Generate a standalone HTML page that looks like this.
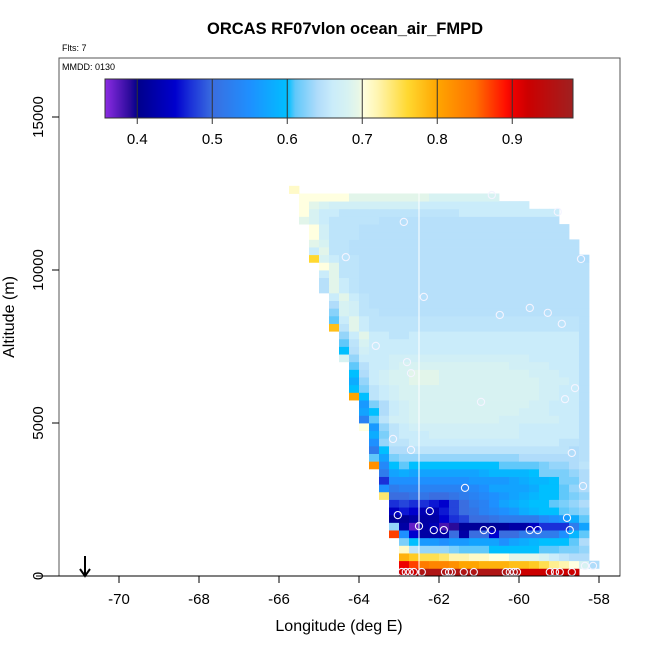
<!DOCTYPE html>
<html><head><meta charset="utf-8"><style>
html,body{margin:0;padding:0;background:#fff;}
svg{display:block;font-family:"Liberation Sans",Arial,sans-serif;}
</style></head><body>
<svg id="chart" width="650" height="650" viewBox="0 0 650 650" xmlns="http://www.w3.org/2000/svg">
<rect width="650" height="650" fill="#fff"/>
<text x="345" y="34" font-size="16.5" font-weight="bold" text-anchor="middle">ORCAS RF07vlon ocean_air_FMPD</text>
<text x="62" y="51" font-size="9">Flts: 7</text>
<g id="cells"></g>
<g id="vline"></g>
<g id="points"></g>
<rect x="59" y="58" width="561" height="518" fill="none" stroke="#555" stroke-width="1"/>
<text x="62" y="70" font-size="9">MMDD: 0130</text>
<g id="cbar"></g>
<g id="xaxis"></g>
<g id="yaxis"></g>
<text x="339" y="631" font-size="16" text-anchor="middle">Longitude (deg E)</text>
<text transform="translate(14,317) rotate(-90)" font-size="16" text-anchor="middle">Altitude (m)</text>
<g>
<line x1="85" y1="556" x2="85" y2="575" stroke="#000" stroke-width="2"/>
<polyline points="80,569 85,576 90,569" fill="none" stroke="#000" stroke-width="2"/>
</g>
</svg>
<script>
const xTicks=[-70,-68,-66,-64,-62,-60,-58];
const yTicks=[0,5000,10000,15000];
const cbTicks=[0.4,0.5,0.6,0.7,0.8,0.9];
const lonStart=-65.75, lonStep=0.25, altStep=250;
const markerLon=-62.5;
// heatmap rows (altitude bin index = array index): first entry = starting column, then values (hundredths)
const gridRows=[
[11,92,92,96,96,96,96,96,96,96,96,96,96,92,92,92,92,92,92],
[11,90,87,84,83,83,82,80,80,79,79,79,78,78,77,75,73,72,70,68,64],
[11,79,77,75,75,74,72,72,71,71,70,70,69,69,69,68,66,65,64,64],
[11,71,65,63,63,63,62,61,61,61,60,60,60,60,60,61,61,62,62,63],
[11,62,60,56,56,55,56,56,57,57,57,55,57,58,59,60,60,60,61,64],
[10,87,55,45,42,42,42,50,42,50,50,45,50,50,52,52,52,52,55,59,61],
[10,63,42,37,42,43,38,39,41,41,41,41,41,42,42,44,47,47,47,52,57],
[10,41,41,42,42,42,45,47,48,50,50,51,52,52,52,52,54,55,56,58,61],
[10,44,46,45,43,43,46,48,50,51,53,54,55,56,58,59,60,60,61,62,63],
[10,47,48,47,47,46,45,48,50,52,53,55,57,58,59,60,60,61,62,63,64],
[9,74,50,50,51,51,50,50,51,52,53,54,55,56,57,58,59,60,60,61,62,63],
[9,55,52,53,53,53,53,53,53,53,54,55,57,57,57,57,58,60,60,61,63,64],
[9,47,55,55,55,55,55,55,55,55,56,56,56,56,57,58,59,59,60,62,62,64],
[9,52,57,58,57,57,57,57,57,57,57,58,59,59,59,59,60,62,62,62,63,64],
[8,82,54,60,61,60,60,60,60,60,60,60,60,60,61,61,61,61,62,63,63,64,65],
[8,61,57,62,63,63,63,63,63,63,63,63,63,63,63,63,64,64,64,64,64,64,64.5],
[8,52,60,64,64,65,65,65,65,65,65,65,65,65,65,65,65,65,65,65,65,64,64.5],
[8,55,63,65,65,66,66,66,66,66,66,66,66,66,66,66,66,66,66,66,65,65,64.5],
[8,58,62,65,66,66,66,67,67,67,67,67,67,67,67,67,66,66,66,66,66,66,64.5],
[7,70,56,63,65,66,67,67,67,67,67,67,67,67,67,67,67,66,66,66,66,66,66,64.5],
[7,53,61,65,67,67,68,68,68,68,68,68,68,68,68,67,67,67,67,67,67,66,66,64.5],
[7,57,60,64,66,67,68,68,68,68,68,68,68,68,68,68,68,67,67,67,66,66,66,64.5],
[7,56,62,64,66,67,68,68,68,68,68,68,68,68,68,68,68,68,67,67,66,66,66,64.5],
[6,80,60,65,66,67,68,68,68,68,68,68,68,68,68,68,68,68,68,68,67,67,66,66,64.5],
[6,60,62,65,66,67,68,68,68,68,68,68,68,68,68,68,68,68,68,68,67,67,66,66,64.5],
[6,58,63,66,67,68,68,69,69,69,68,68,68,68,68,68,68,68,68,68,67,67,67,66,64.5],
[6,60,64,66,67,68,68,69,69,69,68,68,68,68,68,68,68,68,68,67,67,67,66,66,64.5],
[6,61,64.5,66,66,67,68,68,68,68,68,68,68,68,68,68,68,67,67,67,67,66,66,66,64.5],
[5,68,63,66,66,66,67,67,67,67,67,67,67,67,67,67,67,67,67,67,66,66,66,66,66,64.5],
[5,60,64.5,67,66,66,66,66,66,66,66,66,66,66,66,66,66,66,66,66,66,66,66,66,66,64.5],
[5,61,65,68,66,66,66,66,66,66,66,66,66,66,66,66,66,66,66,66,66,66,66,66,66,64.5],
[5,63,66,69,66,66,65,65,66,66,66,66,66,66,66,66,66,66,66,66,66,66,66,66,66,64.5],
[4,78,65,69,66,65,65,65,65,65,65,65,65,65,65,65,65,65,65,65,65,65,65,65,65,65,64.5],
[4,61,66,69,66,65,65,65,65,65,65,65,65,65,65,65,65,65,65,65,65,65,65,65,65,65,64.5],
[4,62.5,68,67,65,65,64.5,64.5,64.5,64.5,64.5,64.5,64.5,64.5,64.5,64.5,64.5,64.5,64.5,64.5,64.5,64.5,64.5,64.5,64.5,64.5,64.5],
[4,64,68,67,65,64.5,64.5,64.5,64.5,64.5,64.5,64.5,64.5,64.5,64.5,64.5,64.5,64.5,64.5,64.5,64.5,64.5,64.5,64.5,64.5,64.5,64.5],
[4,66,69,66,65,64.5,64.5,64.5,64.5,64.5,64.5,64.5,64.5,64.5,64.5,64.5,64.5,64.5,64.5,64.5,64.5,64.5,64.5,64.5,64.5,64.5,64.5],
[3,64.5,69,66,65,64.5,64.5,64.5,64.5,64.5,64.5,64.5,64.5,64.5,64.5,64.5,64.5,64.5,64.5,64.5,64.5,64.5,64.5,64.5,64.5,64.5,64.5,64.5],
[3,64.5,69,66,65,64.5,64.5,64.5,64.5,64.5,64.5,64.5,64.5,64.5,64.5,64.5,64.5,64.5,64.5,64.5,64.5,64.5,64.5,64.5,64.5,64.5,64.5,64.5],
[3,66,69,65,65,64.5,64.5,64.5,64.5,64.5,64.5,64.5,64.5,64.5,64.5,64.5,64.5,64.5,64.5,64.5,64.5,64.5,64.5,64.5,64.5,64.5,64.5,64.5],
[3,70,69,65,65,64.5,64.5,64.5,64.5,64.5,64.5,64.5,64.5,64.5,64.5,64.5,64.5,64.5,64.5,64.5,64.5,64.5,64.5,64.5,64.5,64.5,64.5,64.5],
[2,76,68,66,65,65,64.5,64.5,64.5,64.5,64.5,64.5,64.5,64.5,64.5,64.5,64.5,64.5,64.5,64.5,64.5,64.5,64.5,64.5,64.5,64.5,64.5,64.5,64],
[2,66,69,65,65,64.5,64.5,64.5,64.5,64.5,64.5,64.5,64.5,64.5,64.5,64.5,64.5,64.5,64.5,64.5,64.5,64.5,64.5,64.5,64.5,64.5,64.5,64.5],
[2,69,68,65,65,64.5,64.5,64.5,64.5,64.5,64.5,64.5,64.5,64.5,64.5,64.5,64.5,64.5,64.5,64.5,64.5,64.5,64.5,64.5,64.5,64.5,64.5,64.5],
[2,70,67,65,65,65,64.5,64.5,64.5,64.5,64.5,64.5,64.5,64.5,64.5,64.5,64.5,64.5,64.5,64.5,64.5,64.5,64.5,64.5,64.5,64.5,64.5],
[2,70,67,65,65,65,64.5,64.5,64.5,64.5,64.5,64.5,64.5,64.5,64.5,64.5,64.5,64.5,64.5,64.5,64.5,64.5,64.5,64.5,64.5,64.5,64.5],
[1,69,68,66,65,65,65,65,65,64.5,64.5,64.5,64.5,64.5,64.5,64.5,64.5,64.5,64.5,64.5,64.5,64.5,64.5,64.5,64.5,64.5,64.5],
[1,70,68,66,66,65,65,65,65,65,65,65,65,65,65,65,65,66,66,66,66,66,66,66,66,66,66],
[1,70,69,68,67,67,67,67,67,67,67,67,67,66,66,66,66,66,66,66,66,66,66,66],
[1,70,70,70,70,70,69,69,69,69,69,69,69,69,68,68,68,68,68,68,68],
[0,71]
];
const pointLon=[-62.93,-62.83,-62.73,-62.63,-62.43,-61.85,-61.75,-61.68,-61.38,-61.13,-60.33,-60.23,-60.13,-60.05,-59.23,-59.1,-58.98,-58.68,
-60.68,-59.03,-62.88,-64.33,-58.45,-62.38,-59.73,-59.28,-60.48,-58.93,-63.58,-62.8,-62.7,-58.6,-58.85,-60.95,-63.15,-62.7,-58.68,-61.35,-58.4,-62.23,-63.03,-58.8,-62.5,-62.13,-61.88,-60.88,-60.68,-59.73,-59.53,-58.73,-58.35,-58.15];
const pointAlt=[130,130,130,130,130,130,130,130,130,130,130,130,130,130,130,130,130,130,
12450,11900,11570,10420,10360,9120,8760,8600,8530,8240,7520,6990,6630,6140,5780,5690,4480,4120,4020,2880,2940,2120,1990,1900,1630,1500,1500,1500,1500,1500,1500,1500,330,330];

const NS='http://www.w3.org/2000/svg';
const X=lon=>119+(lon+70)*40;
const Y=alt=>576-alt*0.0306;
const CB=v=>105+(v-0.357)*750;
const stops=[[0.357,[138,43,226]],[0.39,[42,10,154]],[0.40,[0,0,139]],[0.45,[0,0,205]],[0.47,[26,48,216]],[0.50,[58,110,224]],[0.55,[30,144,255]],[0.60,[0,191,255]],[0.61,[96,200,250]],[0.64,[176,220,250]],[0.66,[202,236,250]],[0.68,[215,242,242]],[0.695,[232,247,230]],[0.70,[255,255,224]],[0.72,[255,245,176]],[0.76,[255,216,48]],[0.80,[255,165,0]],[0.85,[255,112,0]],[0.89,[255,16,0]],[0.90,[238,0,0]],[0.92,[204,0,0]],[0.98,[160,32,32]]];
function color(v){
  if(v<=stops[0][0]) return 'rgb('+stops[0][1]+')';
  for(let i=1;i<stops.length;i++){
    if(v<=stops[i][0]){
      const a=stops[i-1],b=stops[i],t=(v-a[0])/(b[0]-a[0]);
      return 'rgb('+a[1].map((c,j)=>Math.round(c+(b[1][j]-c)*t)).join(',')+')';
    }
  }
  return 'rgb('+stops[stops.length-1][1]+')';
}
function mk(tag,attrs,parent){const e=document.createElementNS(NS,tag);for(const k in attrs)e.setAttribute(k,attrs[k]);parent.appendChild(e);return e;}

const cells=document.getElementById('cells');
gridRows.forEach((row,r)=>{
  const start=row[0];
  for(let i=1;i<row.length;i++){
    const k=start+i-1;
    const l0=lonStart+k*lonStep;
    const x0=X(l0),x1=X(l0+lonStep),y0=Y((r+1)*altStep),y1=Y(r*altStep);
    const el=mk('rect',{x:x0.toFixed(2),y:y0.toFixed(2),width:(x1-x0+0.4).toFixed(2),height:(y1-y0+0.4).toFixed(2),fill:color(row[i]/100)},cells);
    
    
  }
});
const vl=document.getElementById('vline');
const vtop=Y(gridRows.length*altStep-altStep);
const ln=mk('line',{x1:X(markerLon),x2:X(markerLon),y1:vtop,y2:576,stroke:'#fff','stroke-width':1},vl);



const pts=document.getElementById('points');
pointLon.forEach((lon,i)=>{
  const c=mk('circle',{cx:X(lon),cy:Y(pointAlt[i]),r:3.6,fill:'none',stroke:'#f4f4ff','stroke-width':1.1},pts);
  
  
});

const cb=document.getElementById('cbar');
for(let px=105;px<573;px++){
  const v=0.357+(px-105)/750;
  const r=mk('rect',{x:px,y:79,width:1.2,height:39,fill:color(v)},cb);
  
  
}
const cbf=mk('rect',{x:105,y:79,width:468,height:39,fill:'none',stroke:'#333','stroke-width':1},cb);


cbTicks.forEach(v=>{
  const x=CB(v);
  const t=mk('line',{x1:x,x2:x,y1:79,y2:124,stroke:'#333','stroke-width':1},cb);
  
  
  const l=mk('text',{x:x,y:144,'font-size':15,'text-anchor':'middle'},cb);
  l.textContent=v.toFixed(1);
  
  
});

const xa=document.getElementById('xaxis');
const xl=mk('line',{x1:36,x2:620,y1:576,y2:576,stroke:'#000','stroke-width':1},xa);


xTicks.forEach(v=>{
  const x=X(v);
  const t=mk('line',{x1:x,x2:x,y1:576,y2:583,stroke:'#000'},xa);
  
  
  const l=mk('text',{x:x,y:604,'font-size':15,'text-anchor':'middle'},xa);
  l.textContent=v;
  
  
});
const ya=document.getElementById('yaxis');
yTicks.forEach(v=>{
  const y=Y(v);
  const t=mk('line',{x1:52,x2:59,y1:y,y2:y,stroke:'#000'},ya);
  
  
  const l=mk('text',{transform:'translate(43,'+y+') rotate(-90)','font-size':15,'text-anchor':'middle'},ya);
  l.textContent=v;
  
  
});
</script>
</body></html>
